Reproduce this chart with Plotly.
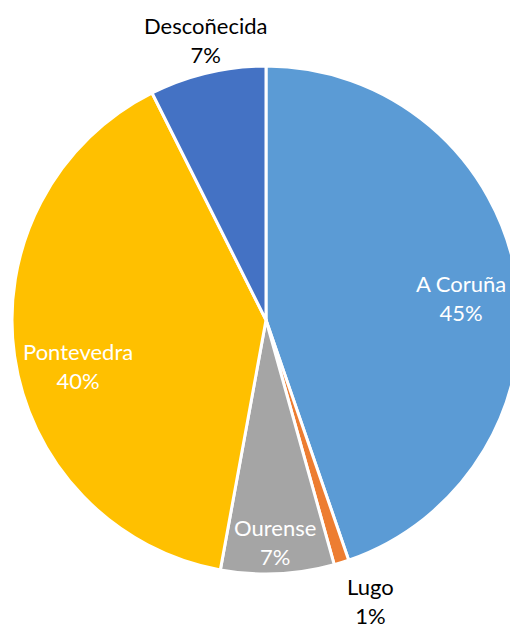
import plotly.graph_objects as go

labels = ["A Coruña", "Lugo", "Ourense", "Pontevedra", "Descoñecida"]
values = [44.7, 0.95, 7.2, 39.7, 7.4]
pct_text = ["45%", "1%", "7%", "40%", "7%"]
colors = ["#5B9BD5", "#ED7D31", "#A5A5A5", "#FFC000", "#4472C4"]
text_col = ["white", "black", "white", "white", "black"]
# label centre offsets from pie centre, in pixels (layout only)
label_off = [(195, -22), (104, 281), (9, 222), (-188, 46), (-61, -280)]

W, H = 540, 628
L, T, S = 12, 66, 508   # margins and plot square size

fig = go.Figure(go.Pie(
    labels=labels,
    values=values,
    sort=False,
    direction="clockwise",
    rotation=0,
    marker=dict(colors=colors, line=dict(color="white", width=3)),
    textinfo="none",
    showlegend=False,
    hoverinfo="skip",
))

for lab, p, c, (dx, dy) in zip(labels, pct_text, text_col, label_off):
    fig.add_annotation(
        x=0.5 + dx / S, y=0.5 - dy / S, xref="paper", yref="paper",
        text=f"{lab}<br>{p}", showarrow=False,
        xanchor="center", yanchor="middle", align="center",
        borderpad=0,
        font=dict(family="Lato", size=22, color=c),
    )

fig.update_layout(
    width=W, height=H,
    margin=dict(l=L, r=W - L - S, t=T, b=H - T - S),
    paper_bgcolor="white",
    plot_bgcolor="white",
)

fig.write_html(
    "out.html",
    config={"displayModeBar": False},
    post_script=[
        "document.body.style.margin='0';"
        "document.body.style.overflow='hidden';"
        "document.documentElement.style.overflow='hidden';"
    ],
)
